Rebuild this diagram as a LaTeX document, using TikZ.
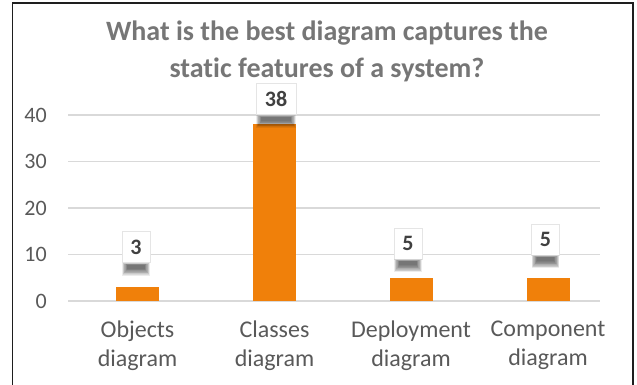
\documentclass[tikz,border=0pt]{standalone}
\usepackage{fontspec}
\setmainfont{Carlito}[Ligatures=NoCommon]
\usetikzlibrary{calc}
\definecolor{barorange}{HTML}{F0800A}
\definecolor{axistext}{HTML}{595959}
\definecolor{titlegray}{HTML}{767676}
\definecolor{gridgray}{HTML}{D9D9D9}
\definecolor{valtext}{HTML}{404040}
\definecolor{framecol}{HTML}{1E1E1E}
\begin{document}
\begin{tikzpicture}[x=1pt,y=-1pt,
  gridline/.style={draw=gridgray,line width=1.5pt},
  ticklabel/.style={anchor=east,text=axistext,inner sep=0pt,font=\fontsize{22}{26}\selectfont},
  bar/.style={fill=barorange,draw=none,anchor=south,minimum width=43pt,inner sep=0pt},
  vallabel/.style={fill=white,draw=black!10,line width=0.5pt,anchor=south,inner sep=0pt,
    minimum height=31pt,text=valtext,font=\fontsize{22}{26}\selectfont\bfseries},
  catlabel/.style={align=center,text=axistext,inner sep=0pt,font=\fontsize{24}{29}\selectfont},
  charttitle/.style={align=center,text=titlegray,inner sep=0pt,font=\fontsize{28}{37}\selectfont\bfseries},
]
\useasboundingbox (0,0) rectangle (637,385);

% outer frame (open at the bottom)
\draw[framecol,line width=1.5pt] (12.5,385) -- (12.5,3) -- (633,3) -- (633,385);

% title
\node[charttitle] (title) at (327,51.5) {What is the best diagram captures the\\static features of a system?};

% gridlines and value axis
\foreach \v/\nm in {0/t0,10/t1,20/t2,30/t3,40/t4}{
  \pgfmathsetmacro{\yy}{301-\v*4.65}
  \coordinate (g\nm) at (68,\yy);
  \coordinate (h\nm) at (600,\yy);
  \draw[gridline] (g\nm) -- (h\nm);
  \node[ticklabel] (\nm) at (47,\yy) {\v};
}

% bars
\node[bar,minimum height=13.95pt]  (bar1) at (137.5,301) {};
\node[bar,minimum height=176.7pt]  (bar2) at (274.5,301) {};
\node[bar,minimum height=23.25pt]  (bar3) at (411,301) {};
\node[bar,minimum height=23.25pt]  (bar4) at (548,301) {};

% value labels
\node[vallabel,minimum width=28pt] (val1) at (136,262.7) {3};
\node[vallabel,minimum width=40pt] (val2) at (276,115) {38};
\node[vallabel,minimum width=28pt] (val3) at (408,259) {5};
\node[vallabel,minimum width=28pt] (val4) at (545.5,255) {5};

% soft drop shadows under the value labels (stacked translucent layers)
\foreach \n in {val1,val2,val3,val4}{
  \foreach \i in {0,...,9}{
    \fill[black,opacity=0.075]
      ($(\n.south west)+(0.5+\i*0.55,0.3+\i*0.2)$) rectangle ($(\n.south east)+(-0.5-\i*0.55,13-\i*0.75)$);
  }
}

% category labels
\node[catlabel] (cat1) at (137.5,345.5) {Objects\\diagram};
\node[catlabel] (cat2) at (274.5,345.5) {Classes\\diagram};
\node[catlabel] (cat3) at (411,345.5) {Deployment\\diagram};
\node[catlabel] (cat4) at (548,345.5) {Component\\diagram};
\end{tikzpicture}
\end{document}
